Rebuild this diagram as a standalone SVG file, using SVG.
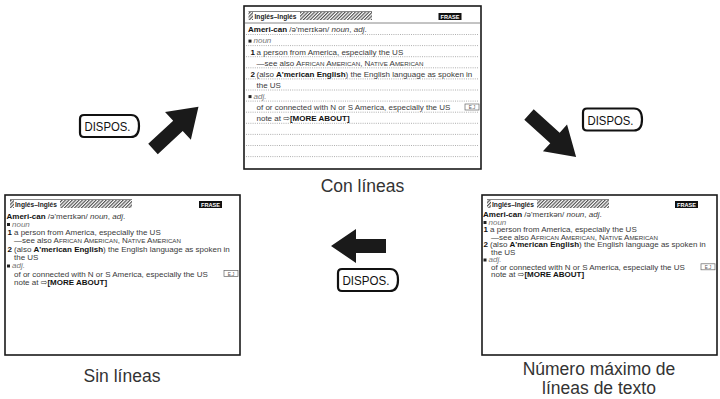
<svg xmlns="http://www.w3.org/2000/svg" width="720" height="399" viewBox="0 0 720 399">
<defs>
<pattern id="hatch" width="2.4" height="2.4" patternUnits="userSpaceOnUse" patternTransform="rotate(45)">
<rect width="2.4" height="2.4" fill="#fff"/>
<rect width="1.2" height="2.4" fill="#555"/>
</pattern>
</defs>
<style>
.scr{fill:#fff;stroke:#1a1a1a;stroke-width:1.6}
.t{font-family:"Liberation Sans",Arial,"DejaVu Sans",sans-serif;font-size:8px;fill:#3a3a3a}
.b{font-weight:bold;fill:#111}
.i{font-style:italic}
.g{fill:#777}
.sc{font-size:6.2px}
.hd{font-family:"Liberation Sans",Arial,sans-serif;font-size:7.6px;font-weight:bold;fill:#222}
.fr{font-family:"Liberation Sans",Arial,sans-serif;font-size:5.6px;font-weight:bold;fill:#fff;text-anchor:middle}
.ej{fill:#fff;stroke:#666;stroke-width:0.7}
.ejt{font-family:"Liberation Sans",Arial,sans-serif;font-size:4.6px;fill:#555;text-anchor:middle}
.dot{stroke:#9a9a9a;stroke-width:0.8;stroke-dasharray:1 1.2}
.hl{stroke:#666;stroke-width:0.8}
.lbl{font-family:"Liberation Sans",Arial,sans-serif;font-size:17.5px;fill:#333;text-anchor:middle}
.btn{fill:#fff;stroke:#111;stroke-width:2.2}
.bt{font-family:"Liberation Sans",Arial,sans-serif;font-size:13.5px;fill:#111}
.arr{fill:#1a1a1a}
</style>

<!-- Top screen: Con líneas -->
<g id="screen-con-lineas">
<rect class="scr" x="244" y="6" width="237" height="163"/>
<line class="hl" x1="248.5" y1="11.5" x2="372" y2="11.5"/>
<rect x="248.5" y="12" width="123.5" height="8" fill="url(#hatch)"/>
<rect x="253" y="12" width="47" height="8.5" fill="#fff"/>
<text class="hd" x="254.5" y="19.4" textLength="42" lengthAdjust="spacingAndGlyphs">Inglés–Inglés</text>
<rect x="438.5" y="13" width="23" height="7" fill="#111"/>
<text class="fr" x="450" y="18.7">FRASE</text>
<line x1="245" y1="23" x2="480" y2="23" stroke="#888" stroke-width="1"/>
<g>
<line class="dot" x1="246" y1="34.5" x2="479" y2="34.5"/>
<line class="dot" x1="246" y1="45.6" x2="479" y2="45.6"/>
<line class="dot" x1="246" y1="56.7" x2="479" y2="56.7"/>
<line class="dot" x1="246" y1="67.8" x2="479" y2="67.8"/>
<line class="dot" x1="246" y1="78.9" x2="479" y2="78.9"/>
<line class="dot" x1="246" y1="90" x2="479" y2="90"/>
<line class="dot" x1="246" y1="101.1" x2="479" y2="101.1"/>
<line class="dot" x1="246" y1="112.2" x2="479" y2="112.2"/>
<line class="dot" x1="246" y1="123.3" x2="479" y2="123.3"/>
<line class="dot" x1="246" y1="134.4" x2="479" y2="134.4"/>
<line class="dot" x1="246" y1="145.5" x2="479" y2="145.5"/>
<line class="dot" x1="246" y1="156.6" x2="479" y2="156.6"/>
</g>
<text class="t" x="248" y="32.3"><tspan class="b">Ameri-can</tspan> /ə'merɪkən/ <tspan class="i">noun</tspan>, <tspan class="i">adj</tspan>.</text>
<rect x="248.5" y="39.6" width="3" height="3" fill="#222"/>
<text class="t i g" x="253.5" y="43.4">noun</text>
<text class="t" x="250.5" y="54.5"><tspan class="b">1</tspan><tspan x="256.5">a person from America, especially the US</tspan></text>
<text class="t" x="256.5" y="65.6">—see also A<tspan class="sc">FRICAN</tspan> A<tspan class="sc">MERICAN</tspan>, N<tspan class="sc">ATIVE</tspan> A<tspan class="sc">MERICAN</tspan></text>
<text class="t" x="250.5" y="76.7"><tspan class="b">2</tspan><tspan x="256.5">(also </tspan><tspan class="b">A'merican English</tspan>) the English language as spoken in</text>
<text class="t" x="256.5" y="87.8">the US</text>
<rect x="248.5" y="95.1" width="3" height="3" fill="#222"/>
<text class="t i g" x="253.5" y="98.9">adj.</text>
<text class="t" x="256.5" y="110">of or connected with N or S America, especially the US</text>
<rect class="ej" x="465" y="104" width="14" height="6"/>
<text class="ejt" x="472" y="108.9">E.J</text>
<text class="t" x="256.5" y="121.1">note at <tspan font-family="DejaVu Sans">⇨</tspan><tspan class="b">[MORE ABOUT]</tspan></text>
</g>

<!-- Left screen: Sin líneas -->
<g id="screen-sin-lineas">
<rect class="scr" x="5" y="195" width="235" height="160"/>
<line class="hl" x1="10" y1="199.5" x2="132" y2="199.5"/>
<rect x="10" y="200" width="122" height="8" fill="url(#hatch)"/>
<rect x="14" y="200" width="46" height="8.5" fill="#fff"/>
<text class="hd" x="15" y="207.4" textLength="42" lengthAdjust="spacingAndGlyphs">Inglés–Inglés</text>
<rect x="199" y="201" width="23" height="7" fill="#111"/>
<text class="fr" x="210.5" y="206.7">FRASE</text>
<text class="t" x="6.5" y="218.5"><tspan class="b">Ameri-can</tspan> /ə'merɪkən/ <tspan class="i">noun</tspan>, <tspan class="i">adj</tspan>.</text>
<rect x="7" y="223" width="3" height="3" fill="#222"/>
<text class="t i g" x="12" y="226.8">noun</text>
<text class="t" x="7.5" y="235.1"><tspan class="b">1</tspan><tspan x="14">a person from America, especially the US</tspan></text>
<text class="t" x="14" y="243.4">—see also A<tspan class="sc">FRICAN</tspan> A<tspan class="sc">MERICAN</tspan>, N<tspan class="sc">ATIVE</tspan> A<tspan class="sc">MERICAN</tspan></text>
<text class="t" x="7.5" y="251.7"><tspan class="b">2</tspan><tspan x="14">(also </tspan><tspan class="b">A'merican English</tspan>) the English language as spoken in</text>
<text class="t" x="14" y="260">the US</text>
<rect x="7" y="264.5" width="3" height="3" fill="#222"/>
<text class="t i g" x="12" y="268.3">adj.</text>
<text class="t" x="14" y="276.6">of or connected with N or S America, especially the US</text>
<rect class="ej" x="224" y="270.6" width="14" height="6"/>
<text class="ejt" x="231" y="275.5">E.J</text>
<text class="t" x="14" y="284.9">note at <tspan font-family="DejaVu Sans">⇨</tspan><tspan class="b">[MORE ABOUT]</tspan></text>
</g>

<!-- Right screen: Número máximo de líneas de texto -->
<g id="screen-max-lineas">
<rect class="scr" x="482" y="195" width="235" height="160"/>
<line class="hl" x1="487" y1="199.5" x2="609" y2="199.5"/>
<rect x="487" y="200" width="122" height="8" fill="url(#hatch)"/>
<rect x="491" y="200" width="46" height="8.5" fill="#fff"/>
<text class="hd" x="492" y="207.4" textLength="42" lengthAdjust="spacingAndGlyphs">Inglés–Inglés</text>
<rect x="675" y="201" width="23" height="7" fill="#111"/>
<text class="fr" x="686.5" y="206.7">FRASE</text>
<text class="t" x="483" y="217.3"><tspan class="b">Ameri-can</tspan> /ə'merɪkən/ <tspan class="i">noun</tspan>, <tspan class="i">adj</tspan>.</text>
<rect x="483.5" y="221" width="3" height="3" fill="#222"/>
<text class="t i g" x="488.5" y="224.8">noun</text>
<text class="t" x="483.5" y="232.3"><tspan class="b">1</tspan><tspan x="490">a person from America, especially the US</tspan></text>
<text class="t" x="491" y="239.8">—see also A<tspan class="sc">FRICAN</tspan> A<tspan class="sc">MERICAN</tspan>, N<tspan class="sc">ATIVE</tspan> A<tspan class="sc">MERICAN</tspan></text>
<text class="t" x="483.5" y="247.3"><tspan class="b">2</tspan><tspan x="490">(also </tspan><tspan class="b">A'merican English</tspan>) the English language as spoken in</text>
<text class="t" x="491" y="254.8">the US</text>
<rect x="483.5" y="258.5" width="3" height="3" fill="#222"/>
<text class="t i g" x="488.5" y="262.3">adj.</text>
<text class="t" x="491" y="269.8">of or connected with N or S America, especially the US</text>
<rect class="ej" x="701" y="263.8" width="14" height="6"/>
<text class="ejt" x="708" y="268.7">E.J</text>
<text class="t" x="491" y="277.3">note at <tspan font-family="DejaVu Sans">⇨</tspan><tspan class="b">[MORE ABOUT]</tspan></text>
</g>

<!-- Captions -->
<g id="label-con-lineas"><text class="lbl" x="362.5" y="192">Con líneas</text></g>
<g id="label-sin-lineas"><text class="lbl" x="122" y="382">Sin líneas</text></g>
<g id="label-max-lineas"><text class="lbl" x="599" y="375">Número máximo de</text><text class="lbl" x="599" y="394">líneas de texto</text></g>

<!-- Connectors -->
<g id="connectors">
<polygon class="arr" transform="translate(153,149) rotate(-42.8)" points="0,-7 34,-7 34,-19 62,0 34,19 34,7 0,7"/>
<polygon class="arr" transform="translate(529,114.5) rotate(42.1)" points="0,-7 35,-7 35,-18 63.5,0 35,18 35,7 0,7"/>
<polygon class="arr" transform="translate(386,246) rotate(180)" points="0,-7 30,-7 30,-17 55,0 30,17 30,7 0,7"/>
</g>

<!-- DISPOS. keys -->
<g id="key-dispos-1">
<path class="btn" d="M84,115 L131,115 C137,115 139,120 139,126 C139,132 137,137 131,137 L84,137 Q80,137 80,133 L80,119 Q80,115 84,115 Z"/>
<text class="bt" x="84.5" y="131.3" textLength="46" lengthAdjust="spacingAndGlyphs">DISPOS.</text>
</g>
<g id="key-dispos-2">
<path class="btn" d="M587,108.5 L634,108.5 C640,108.5 642,113.5 642,119.5 C642,125.5 640,130.5 634,130.5 L587,130.5 Q583,130.5 583,126.5 L583,112.5 Q583,108.5 587,108.5 Z"/>
<text class="bt" x="587.5" y="124.8" textLength="46" lengthAdjust="spacingAndGlyphs">DISPOS.</text>
</g>
<g id="key-dispos-3">
<path class="btn" d="M342,269 L390,269 C396,269 398,274 398,280 C398,286 396,291 390,291 L342,291 Q338,291 338,287 L338,273 Q338,269 342,269 Z"/>
<text class="bt" x="342.5" y="285.3" textLength="47" lengthAdjust="spacingAndGlyphs">DISPOS.</text>
</g>
</svg>
